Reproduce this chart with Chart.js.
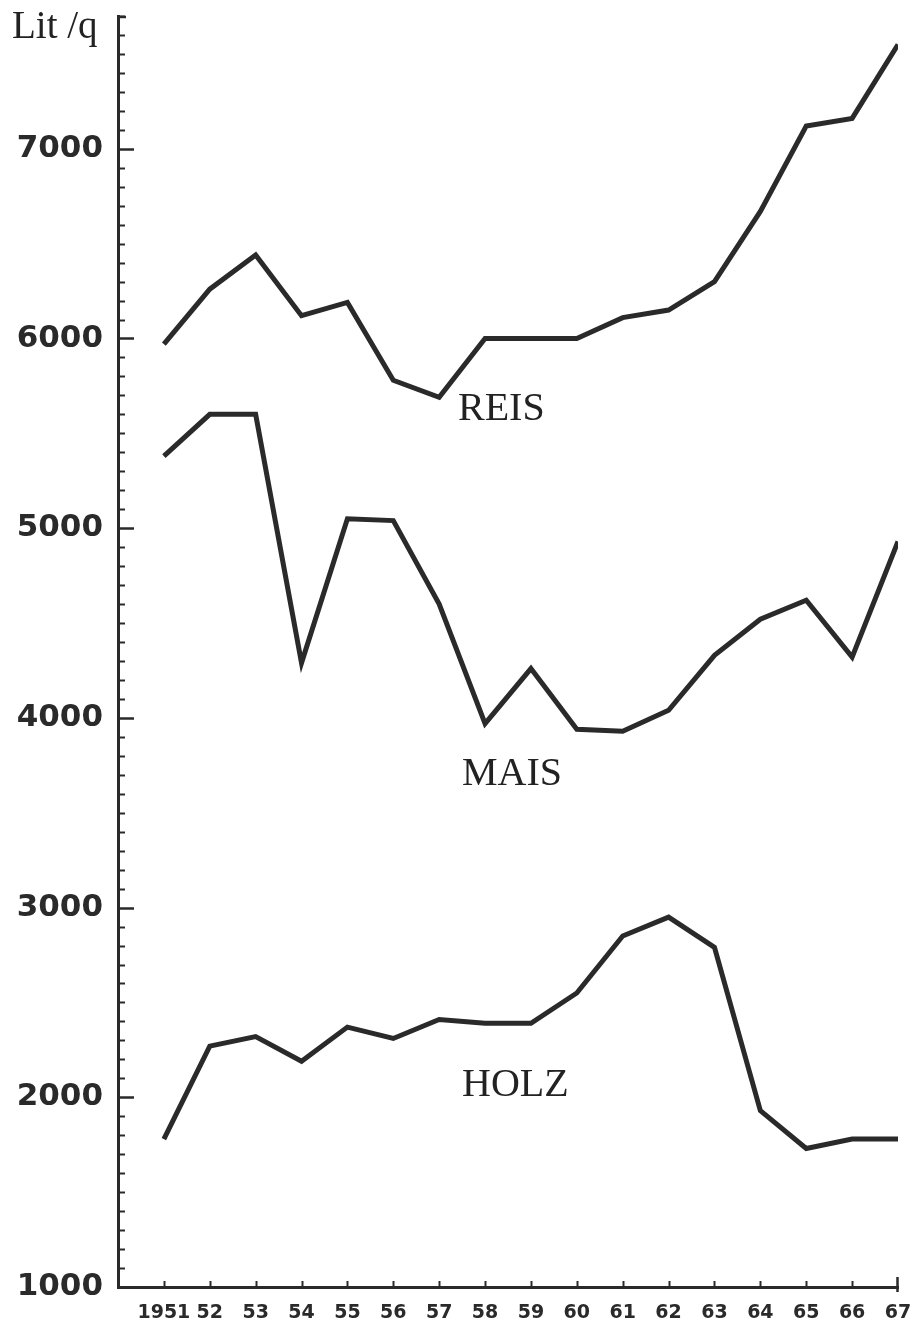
<!DOCTYPE html>
<html><head><meta charset="utf-8">
<script src="https://cdn.jsdelivr.net/npm/chart.js@4/dist/chart.umd.min.js"></script>
<style>html,body{margin:0;padding:0;background:#fff;}canvas{display:block;}</style>
</head><body>
<canvas id="c" width="910" height="1324"></canvas>
<script>
// ---- data ----
const years = [1951,1952,1953,1954,1955,1956,1957,1958,1959,1960,1961,1962,1963,1964,1965,1966,1967];
const xTickLabels = ['1951','52','53','54','55','56','57','58','59','60','61','62','63','64','65','66','67'];
const reis = [5970,6260,6440,6120,6190,5780,5690,6000,6000,6000,6110,6150,6300,6670,7120,7160,7550];
const mais = [5380,5600,5600,4290,5050,5040,4600,3970,4260,3940,3930,4040,4330,4520,4620,4320,4930];
const holz = [1780,2270,2320,2190,2370,2310,2410,2390,2390,2550,2850,2950,2790,1930,1730,1780,1780];
const seriesNames = ['REIS','MAIS','HOLZ'];
const unitLabel = 'Lit /q';
const yMin = 1000, yMax = 7700, yStep = 100, yMajor = 1000;
const xMin = 1950, xMax = 1967;

const INK = '#2a2a2a';

function pts(vals){ return years.map((y,i)=>({x:y, y:vals[i]})); }

const decor = {
  id:'decor',
  afterDraw(chart){
    const ctx = chart.ctx, ca = chart.chartArea;
    const yS = chart.scales.y, xS = chart.scales.x;
    ctx.save();
    ctx.strokeStyle = INK;
    ctx.lineCap = 'butt';
    // y ticks pointing into the plot
    yS.ticks.forEach(t=>{
      if (t.value === yMin) return;
      const py = Math.round(yS.getPixelForValue(t.value)) + 0.5;
      const major = t.value % yMajor === 0;
      ctx.lineWidth = major ? 2.5 : 2;
      ctx.beginPath();
      ctx.moveTo(ca.left, py);
      ctx.lineTo(ca.left + (major ? 16 : 7), py);
      ctx.stroke();
    });
    // top cap of y axis
    ctx.lineWidth = 2.5;
    ctx.beginPath(); ctx.moveTo(ca.left, ca.top + 1); ctx.lineTo(ca.left + 8, ca.top + 1); ctx.stroke();
    // x ticks pointing up
    years.forEach((yr, i)=>{
      const px = Math.round(xS.getPixelForValue(yr)) + 0.5;
      ctx.lineWidth = 2;
      ctx.beginPath();
      if (i === years.length - 1) {
        ctx.lineWidth = 2.5;
        ctx.moveTo(px - 1, ca.bottom - 10);
        ctx.lineTo(px - 1, ca.bottom + 5);
      } else {
        ctx.moveTo(px, ca.bottom);
        ctx.lineTo(px, ca.bottom - 6);
      }
      ctx.stroke();
    });
    // unit label
    ctx.fillStyle = '#222';
    ctx.textBaseline = 'alphabetic';
    ctx.textAlign = 'left';
    ctx.font = '39px "Liberation Serif", serif';
    ctx.fillText(unitLabel, 12, 38);
    // series names
    ctx.font = '40px "Liberation Serif", serif';
    const namePos = [[458, 420], [462, 785], [462, 1096]];
    seriesNames.forEach((n, i)=> ctx.fillText(n, namePos[i][0], namePos[i][1]));
    ctx.restore();
  }
};

const lineStyle = {borderColor: INK, borderWidth: 5, pointRadius: 0, tension: 0, fill: false, borderJoinStyle: 'miter'};

new Chart(document.getElementById('c'), {
  type: 'line',
  data: {
    datasets: [
      Object.assign({label: seriesNames[0], data: pts(reis)}, lineStyle),
      Object.assign({label: seriesNames[1], data: pts(mais)}, lineStyle),
      Object.assign({label: seriesNames[2], data: pts(holz)}, lineStyle)
    ]
  },
  options: {
    responsive: false,
    animation: false,
    devicePixelRatio: 1,
    layout: {padding: {top: 16, right: 12, left: 0, bottom: 0}},
    plugins: {legend: {display: false}, tooltip: {enabled: false}, title: {display: false}},
    scales: {
      x: {
        type: 'linear', position: 'bottom', min: xMin, max: xMax,
        border: {display: true, color: INK, width: 3},
        grid: {display: false, drawTicks: false},
        ticks: {
          stepSize: 1, autoSkip: false, maxRotation: 0, padding: 15, color: INK,
          font: {family: 'DejaVu Sans', weight: 'bold', size: 19},
          callback: (v) => { const i = years.indexOf(v); return i >= 0 ? xTickLabels[i] : ''; }
        },
        afterFit: (s) => { s.height = 37; s.paddingLeft = 0; s.paddingRight = 0; }
      },
      y: {
        type: 'linear', position: 'left', min: yMin, max: yMax,
        border: {display: true, color: INK, width: 3},
        grid: {display: false, drawTicks: false},
        ticks: {
          stepSize: yStep, autoSkip: false, padding: 15, color: INK,
          font: {family: 'DejaVu Sans', weight: 'bold', size: 31},
          callback: (v) => (v % yMajor === 0 && v < yMax ? String(v) : '')
        },
        afterFit: (s) => { s.width = 118; s.paddingTop = 0; s.paddingBottom = 0; }
      }
    }
  },
  plugins: [decor]
});
</script>
</body></html>
